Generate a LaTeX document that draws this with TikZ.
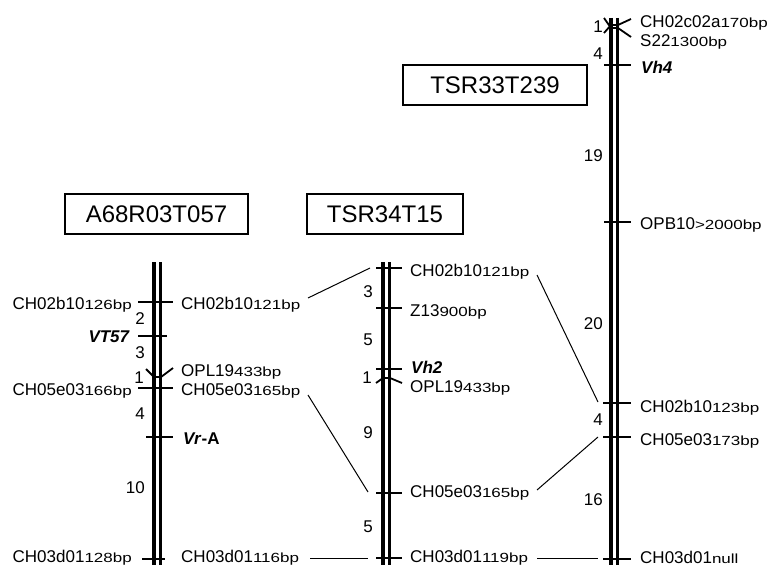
\documentclass[tikz,border=0pt]{standalone}
\usepackage{fontspec}
\setmainfont{Liberation Sans}
\usepackage{graphicx}
\newcommand\mkl[2]{#1\scalebox{1}[0.78]{#2}}
\begin{document}
\begin{tikzpicture}[x=1pt,y=-1pt,
  bar/.style={line width=3.4pt},
  tickl/.style={line width=1.8pt},
  conn/.style={line width=1pt},
  lab/.style={inner sep=0pt, font=\fontsize{17}{20}\selectfont},
  rl/.style={lab, anchor=base west},
  ll/.style={lab, anchor=base east},
  num/.style={lab, anchor=base east},
  title/.style={draw, line width=1.1pt, inner sep=0pt, font=\fontsize{24}{24}\selectfont}]
\useasboundingbox (0,0) rectangle (770,567);

% ---------- titles ----------
\node[title, minimum width=183pt, minimum height=40pt] (t1) at (156.5,214) {A68R03T057};
\node[title, minimum width=156pt, minimum height=40pt] (t2) at (385,214) {TSR34T15};
\node[title, minimum width=184pt, minimum height=40pt] (t3) at (495,85) {TSR33T239};

% ---------- chromosome 1 ----------
\draw[bar] (154,262) -- (154,565);
\draw[bar] (160.5,262) -- (160.5,565);
\draw[tickl] (138,302) -- (173,302);
\draw[tickl] (138,336) -- (167,336);
\draw[tickl] (146,369) -- (154,377) -- (161,377) -- (173,368);
\draw[tickl] (138,388) -- (173,388);
\draw[tickl] (146,437) -- (173,437);
\draw[tickl] (142,559) -- (165,559);

\node[ll] (a1l) at (132,309) {\mkl{CH02b10}{126bp}};
\node[ll] (a2l) at (130,342) {\textbf{\textit{VT57}}};
\node[ll] (a4l) at (132,395) {\mkl{CH05e03}{166bp}};
\node[ll] (a6l) at (132,562.5) {\mkl{CH03d01}{128bp}};

\node[rl] (a1r) at (181,309) {\mkl{CH02b10}{121bp}};
\node[rl] (a3r) at (181,376) {\mkl{OPL19}{433bp}};
\node[rl] (a4r) at (181,395) {\mkl{CH05e03}{165bp}};
\node[rl] (a5r) at (183,444) {\textbf{\textit{Vr}-A}};
\node[rl] (a6r) at (181,562.5) {\mkl{CH03d01}{116bp}};

\node[num] (an1) at (145,324) {2};
\node[num] (an2) at (145,358) {3};
\node[num] (an3) at (144,383) {1};
\node[num] (an4) at (145,419) {4};
\node[num] (an5) at (145,493) {10};

% ---------- chromosome 2 ----------
\draw[bar] (383,262) -- (383,565);
\draw[bar] (389.5,262) -- (389.5,565);
\draw[tickl] (376,268) -- (402,268);
\draw[tickl] (376,308) -- (402,308);
\draw[tickl] (376,369) -- (402,369);
\draw[tickl] (376,383) -- (383,378) -- (390,378) -- (402,383);
\draw[tickl] (376,493) -- (402,493);
\draw[tickl] (376,558) -- (402,558);

\node[rl] (b1r) at (410,276) {\mkl{CH02b10}{121bp}};
\node[rl] (b2r) at (410,316) {\mkl{Z13}{900bp}};
\node[rl] (b3r) at (411,373) {\textbf{\textit{Vh2}}};
\node[rl] (b4r) at (410,392) {\mkl{OPL19}{433bp}};
\node[rl] (b5r) at (410,497) {\mkl{CH05e03}{165bp}};
\node[rl] (b6r) at (410,562.5) {\mkl{CH03d01}{119bp}};

\node[num] (bn1) at (373,297) {3};
\node[num] (bn2) at (373,345) {5};
\node[num] (bn3) at (372,383) {1};
\node[num] (bn4) at (373,438) {9};
\node[num] (bn5) at (373,532) {5};

% ---------- chromosome 3 ----------
\draw[bar] (611,18) -- (611,565);
\draw[bar] (617.5,18) -- (617.5,565);
\draw[tickl] (604,33) -- (611,25) -- (618,25) -- (631,19);
\draw[tickl] (604,18) -- (611,28) -- (618,28) -- (631,37);
\draw[tickl] (604,65) -- (631,65);
\draw[tickl] (604,222) -- (631,222);
\draw[tickl] (603,403) -- (631,403);
\draw[tickl] (603,437) -- (631,437);
\draw[tickl] (603,559) -- (631,559);

\node[rl] (c1r) at (640,28) {\mkl{CH02c02a}{170bp}};
\node[rl] (c2r) at (640,47) {\mkl{S22}{1300bp}};
\node[rl] (c3r) at (641,74) {\textbf{\textit{Vh4}}};
\node[rl] (c4r) at (640,229) {\mkl{OPB10}{>2000bp}};
\node[rl] (c5r) at (640,412) {\mkl{CH02b10}{123bp}};
\node[rl] (c6r) at (640,445) {\mkl{CH05e03}{173bp}};
\node[rl] (c7r) at (640,563) {\mkl{CH03d01}{null}};

\node[num] (cn1) at (603,33) {1};
\node[num] (cn2) at (603,60) {4};
\node[num] (cn3) at (603,161) {19};
\node[num] (cn4) at (603,329) {20};
\node[num] (cn5) at (603,425) {4};
\node[num] (cn6) at (603,505) {16};

% ---------- connectors ----------
\coordinate (p1a) at (308,298); \coordinate (p1b) at (370,268);
\coordinate (p2a) at (308,395); \coordinate (p2b) at (368,492);
\coordinate (p3a) at (310,558); \coordinate (p3b) at (368,558);
\coordinate (q1a) at (537,275); \coordinate (q1b) at (598,402);
\coordinate (q2a) at (537,490); \coordinate (q2b) at (598,437);
\coordinate (q3a) at (537,558); \coordinate (q3b) at (598,558);
\draw[conn] (p1a) -- (p1b);
\draw[conn] (p2a) -- (p2b);
\draw[conn] (p3a) -- (p3b);
\draw[conn] (q1a) -- (q1b);
\draw[conn] (q2a) -- (q2b);
\draw[conn] (q3a) -- (q3b);
\end{tikzpicture}
\end{document}
